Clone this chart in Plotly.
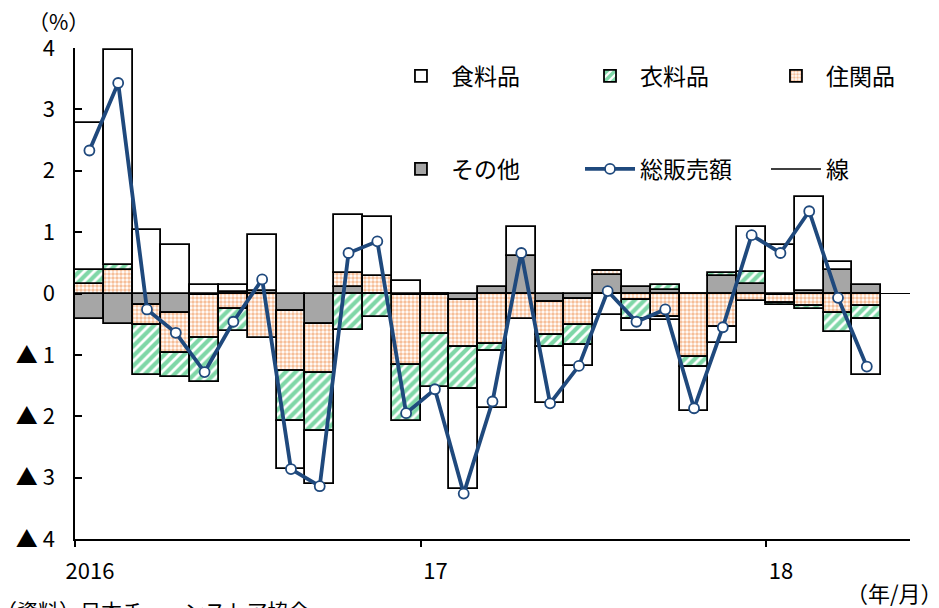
import plotly.graph_objects as go

months = ["2016/1","2016/2","2016/3","2016/4","2016/5","2016/6","2016/7","2016/8","2016/9","2016/10","2016/11","2016/12",
          "2017/1","2017/2","2017/3","2017/4","2017/5","2017/6","2017/7","2017/8","2017/9","2017/10","2017/11","2017/12",
          "2018/1","2018/2","2018/3","2018/4"]

# contributions (percentage points)
other    = [-0.42,-0.49,-0.19,-0.32,-0.02, 0.02, 0.04,-0.28,-0.49, 0.10, 0.00,-0.02,
            -0.02,-0.10, 0.10, 0.61,-0.14,-0.09, 0.30, 0.11, 0.05, 0.00, 0.29, 0.16,
            -0.02, 0.04, 0.38, 0.14]
housing  = [ 0.15, 0.38,-0.32,-0.65,-0.70,-0.25,-0.72,-0.98,-0.80, 0.23, 0.28,-1.15,
            -0.64,-0.77,-0.83,-0.42,-0.54,-0.42, 0.06,-0.10,-0.38,-1.03,-0.54,-0.12,
            -0.13,-0.21,-0.32,-0.20]
clothing = [ 0.24, 0.09,-0.82,-0.39,-0.72,-0.36, 0.00,-0.81,-0.95,-0.59,-0.38,-0.91,
            -0.87,-0.69,-0.10, 0.00,-0.19,-0.33, 0.00,-0.31, 0.09,-0.16, 0.04, 0.19,
            -0.04,-0.05,-0.30,-0.21]
food     = [ 2.38, 3.49, 1.04, 0.79, 0.14, 0.12, 0.91,-0.79,-0.87, 0.95, 0.97, 0.20,
             0.00,-1.63,-0.93, 0.47,-0.92,-0.34,-0.35,-0.20,-0.05,-0.72,-0.27, 0.73,
             0.79, 1.54, 0.14,-0.92]
total    = [ 2.33, 3.43,-0.26,-0.64,-1.28,-0.46, 0.23,-2.86,-3.14, 0.66, 0.85,-1.95,
            -1.56,-3.26,-1.76, 0.66,-1.79,-1.18, 0.04,-0.46,-0.26,-1.87,-0.55, 0.95,
             0.66, 1.34,-0.07,-1.19]

year_labels = ["2016", "17", "18"]
y_ticks = [-4, -3, -2, -1, 0, 1, 2, 3, 4]
y_labels = ["▲ 4", "▲ 3", "▲ 2", "▲ 1", "0", "1", "2", "3", "4"]

x = list(range(len(months)))
year_starts = [i for i, m in enumerate(months) if m.endswith("/1")]

FONT = "Noto Sans CJK JP"
outline = dict(color="black", width=1.8)

fig = go.Figure()
fig.add_trace(go.Bar(x=x, y=other, name="その他", legend="legend4",
                     marker=dict(color="#A6A6A6", line=outline), width=1))
fig.add_trace(go.Bar(x=x, y=housing, name="住関品", legend="legend3",
                     marker=dict(color="white", line=outline,
                                 pattern=dict(shape=".", fgcolor="#ED7D31", bgcolor="white",
                                              size=4, solidity=0.6, fillmode="overlay")), width=1))
fig.add_trace(go.Bar(x=x, y=clothing, name="衣料品", legend="legend2",
                     marker=dict(color="white", line=outline,
                                 pattern=dict(shape="/", fgcolor="#00B050", bgcolor="white",
                                              size=7, solidity=0.6, fillmode="overlay")), width=1))
fig.add_trace(go.Bar(x=x, y=food, name="食料品", legend="legend",
                     marker=dict(color="white", line=outline), width=1))
fig.add_trace(go.Scatter(x=x, y=total, name="総販売額", legend="legend5",
                         mode="lines+markers",
                         line=dict(color="#1F497D", width=3.8),
                         marker=dict(symbol="circle", size=10, color="white",
                                     line=dict(color="#1F497D", width=1.8))))
fig.add_trace(go.Scatter(x=[None], y=[None], name="線", legend="legend6",
                         mode="lines", line=dict(color="black", width=1.5)))

def leg(xp, yp):
    return dict(x=xp, y=yp, orientation="v", xanchor="left", yanchor="middle",
                font=dict(family=FONT, size=23, color="black"),
                bgcolor="rgba(0,0,0,0)", itemwidth=50)

col_x = [0.3784, 0.6048, 0.8275]
row_y = [0.943, 0.7536]

fig.update_layout(
    width=939, height=608,
    margin=dict(l=67, r=37, t=40, b=77),
    paper_bgcolor="white", plot_bgcolor="white",
    barmode="relative", bargap=0,
    font=dict(family=FONT, size=22, color="black"),
    showlegend=True,
    legend=leg(col_x[0], row_y[0]),
    legend2=leg(col_x[1], row_y[0]),
    legend3=leg(col_x[2], row_y[0]),
    legend4=leg(col_x[0], row_y[1]),
    legend5=leg(col_x[1], row_y[1]),
    legend6=leg(col_x[2], row_y[1]),
    xaxis=dict(range=[-0.5, len(months) + 0.5], automargin=False,
               tickvals=[i - 0.5 for i in year_starts], ticktext=year_labels,
               ticks="outside", ticklen=6, tickwidth=1.5, tickcolor="black",
               ticklabelshift=15, ticklabelstandoff=6,
               showline=True, linecolor="black", linewidth=1.5,
               showgrid=False, zeroline=False,
               tickfont=dict(family=FONT, size=22)),
    yaxis=dict(range=[-4, 4], tickvals=y_ticks, ticktext=y_labels, automargin=False,
               ticks="inside", ticklen=7, tickwidth=1.5, tickcolor="black",
               ticklabelstandoff=14,
               showline=True, linecolor="black", linewidth=1.5,
               showgrid=False, zeroline=True, zerolinecolor="black", zerolinewidth=1.3,
               tickfont=dict(family=FONT, size=22)),
    annotations=[
        dict(text="（%）", xref="paper", yref="paper", x=0, y=1, xshift=16, yshift=27,
             xanchor="right", yanchor="middle", showarrow=False,
             font=dict(family=FONT, size=21)),
        dict(text="（年/月）", xref="paper", yref="paper", x=1, y=0, xshift=35, yshift=-53,
             xanchor="right", yanchor="middle", showarrow=False,
             font=dict(family=FONT, size=22)),
        dict(text="（資料）日本チェーンストア協会", xref="paper", yref="paper", x=0, y=0,
             xshift=-81, yshift=-71, xanchor="left", yanchor="middle", showarrow=False,
             font=dict(family=FONT, size=21)),
    ],
)

fig.write_html("out.html")
